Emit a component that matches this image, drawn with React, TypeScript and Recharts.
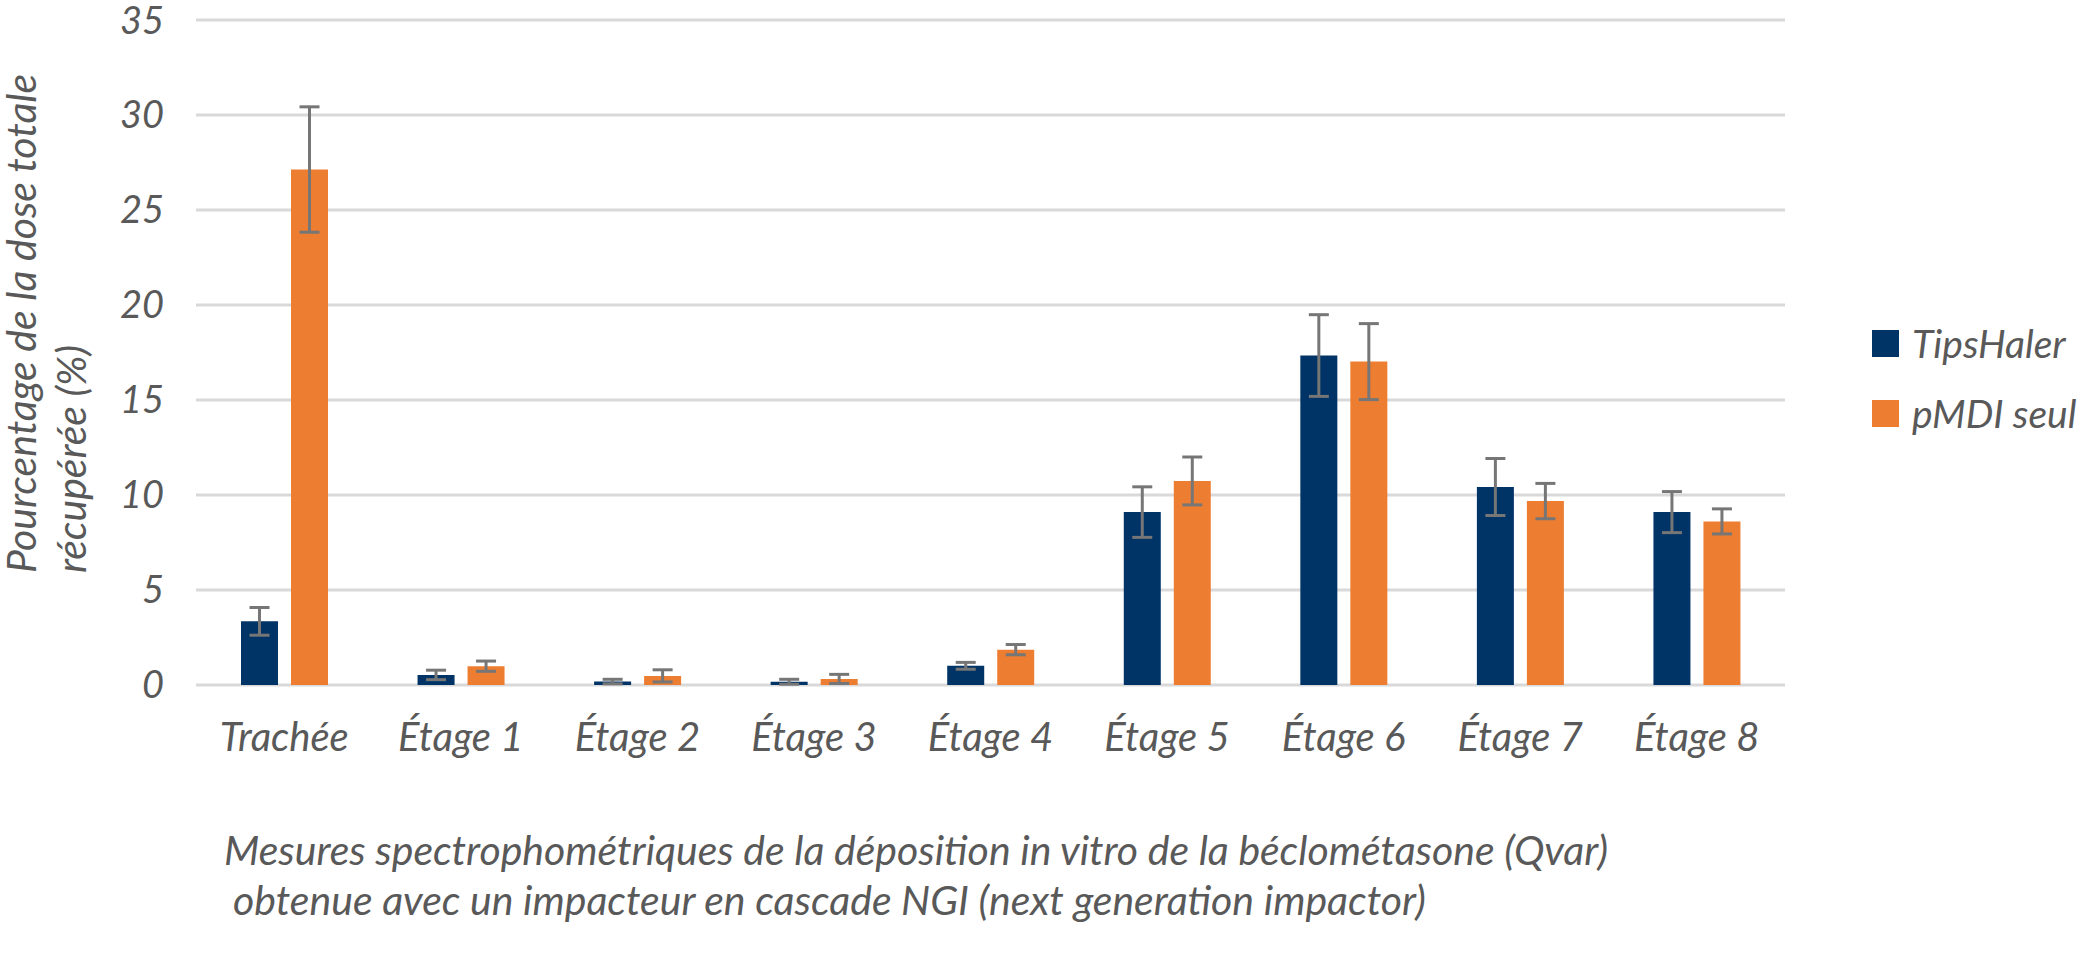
import React from "react";
import {
  BarChart,
  Bar,
  XAxis,
  YAxis,
  CartesianGrid,
  ErrorBar,
  Legend,
} from "recharts";

// values
const categories = [
  "Trachée",
  "Étage 1",
  "Étage 2",
  "Étage 3",
  "Étage 4",
  "Étage 5",
  "Étage 6",
  "Étage 7",
  "Étage 8",
];
const tipsHaler = [3.35, 0.53, 0.18, 0.17, 1.01, 9.1, 17.34, 10.42, 9.1];
const tipsHalerErr = [0.73, 0.25, 0.12, 0.13, 0.18, 1.33, 2.15, 1.5, 1.08];
const pmdiSeul = [27.13, 0.99, 0.48, 0.32, 1.86, 10.74, 17.02, 9.68, 8.61];
const pmdiSeulErr = [3.3, 0.27, 0.32, 0.24, 0.27, 1.26, 2.0, 0.93, 0.66];
const yTicks = [0, 5, 10, 15, 20, 25, 30, 35];
const seriesNames = ["TipsHaler", "pMDI seul"];
const yTitle = ["Pourcentage de la dose totale", "récupérée (%)"];
const caption = [
  "Mesures spectrophométriques de la déposition in vitro de la béclométasone (Qvar)",
  " obtenue avec un impacteur en cascade NGI (next generation impactor)",
];

const data = categories.map((name, i) => ({
  name,
  tips: tipsHaler[i],
  tipsErr: tipsHalerErr[i],
  pmdi: pmdiSeul[i],
  pmdiErr: pmdiSeulErr[i],
}));

const FONT = "Lato, 'Open Sans', sans-serif";
const TEXT = "#595959";
const BLUE = "#003366";
const ORANGE = "#ED7D31";
const ERR = "#767676";

const renderYTitle = () => (
  <g fill={TEXT} fontFamily={FONT} fontStyle="italic" fontSize={41}>
    <text x={36} y={573} transform="rotate(-90 36 573)" textAnchor="start">
      {yTitle[0]}
    </text>
    <text x={86} y={573} transform="rotate(-90 86 573)" textAnchor="start">
      {yTitle[1]}
    </text>
  </g>
);

const renderCaption = () => (
  <g fill={TEXT} fontFamily={FONT} fontStyle="italic" fontSize={41}>
    <text x={224} y={865}>{caption[0]}</text>
    <text x={233} y={915}>{caption[1].trim()}</text>
  </g>
);

const renderLegend = (props: any) => (
  <div
    style={{
      fontFamily: FONT,
      fontStyle: "italic",
      fontSize: 39,
      color: TEXT,
    }}
  >
    {(props.payload || []).map((p: any) => (
      <div
        key={p.value}
        style={{ display: "flex", alignItems: "center", height: 70 }}
      >
        <span
          style={{
            width: 27,
            height: 27,
            background: p.color,
            marginRight: 13,
            flex: "none",
          }}
        />
        <span style={{ whiteSpace: "nowrap" }}>{p.value}</span>
      </div>
    ))}
  </div>
);

export default function App() {
  return (
    <div
      style={{
        position: "absolute",
        left: 0,
        top: 0,
        width: 2083,
        height: 977,
        background: "#fff",
        overflow: "hidden",
      }}
    >
      <BarChart
        width={2083}
        height={977}
        data={data}
        margin={{ top: 20, right: 298, left: 0, bottom: 212 }}
        barGap={13}
      >
        <CartesianGrid vertical={false} stroke="#d9d9d9" strokeWidth={3} />
        <XAxis
          dataKey="name"
          height={80}
          interval={0}
          axisLine={false}
          tickLine={false}
          tickSize={0}
          tickMargin={38}
          tick={{ fill: TEXT, fontSize: 40, fontStyle: "italic", fontFamily: FONT }}
          label={renderCaption}
        />
        <YAxis
          width={196}
          domain={[0, 35]}
          ticks={yTicks}
          interval={0}
          axisLine={false}
          tickLine={false}
          tickSize={0}
          tickMargin={32}
          tick={{ fill: TEXT, fontSize: 38, fontStyle: "italic", fontFamily: FONT }}
          label={renderYTitle}
        />
        <Legend
          layout="vertical"
          align="center"
          verticalAlign="middle"
          content={renderLegend}
          wrapperStyle={{ left: 1872, top: 308, width: "auto" }}
        />
        <Bar
          dataKey="tips"
          name={seriesNames[0]}
          fill={BLUE}
          barSize={37}
          isAnimationActive={false}
        >
          <ErrorBar
            dataKey="tipsErr"
            direction="y"
            width={10}
            stroke={ERR}
            strokeWidth={3}
            isAnimationActive={false}
          />
        </Bar>
        <Bar
          dataKey="pmdi"
          name={seriesNames[1]}
          fill={ORANGE}
          barSize={37}
          isAnimationActive={false}
        >
          <ErrorBar
            dataKey="pmdiErr"
            direction="y"
            width={10}
            stroke={ERR}
            strokeWidth={3}
            isAnimationActive={false}
          />
        </Bar>
      </BarChart>
    </div>
  );
}
